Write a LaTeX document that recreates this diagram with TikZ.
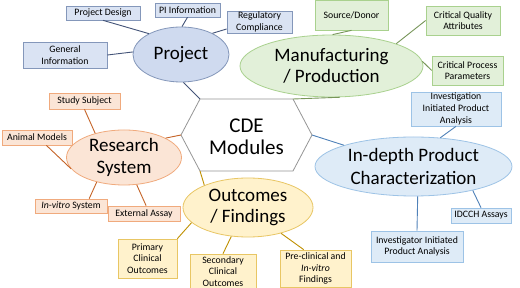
\documentclass[tikz,border=0pt]{standalone}
\usepackage{fontspec}
\setmainfont{Carlito}
\usetikzlibrary{shapes.geometric}
\usepackage{xcolor}
\definecolor{projFill}{RGB}{207,218,239}
\definecolor{projBox}{RGB}{218,227,243}
\definecolor{projEdge}{RGB}{132,151,186}
\definecolor{projLine}{RGB}{68,84,120}
\definecolor{mfgFill}{RGB}{226,240,217}
\definecolor{mfgEdge}{RGB}{169,209,142}
\definecolor{mfgLine}{RGB}{120,150,90}
\definecolor{charFill}{RGB}{222,235,247}
\definecolor{charEdge}{RGB}{157,195,230}
\definecolor{charLine}{RGB}{80,130,185}
\definecolor{resFill}{RGB}{251,229,214}
\definecolor{resEdge}{RGB}{240,170,125}
\definecolor{resLine}{RGB}{197,100,40}
\definecolor{outFill}{RGB}{255,242,204}
\definecolor{outEdge}{RGB}{232,198,100}
\definecolor{outLine}{RGB}{191,144,0}
\definecolor{hexEdge}{RGB}{150,150,150}

\begin{document}
\begin{tikzpicture}[
    x=1pt, y=-1pt,
    module/.style={ellipse, draw, line width=0.8pt, inner sep=0pt, align=center, font=\fontsize{19}{21.5}\selectfont},
    leaf/.style={rectangle, draw, line width=0.7pt, inner sep=0.5pt, align=center, font=\fontsize{9.8}{11.7}\selectfont},
    link/.style={line width=0.9pt}
]
\fill[white] (0,0) rectangle (520,288);
\useasboundingbox (0,0) rectangle (520,288);

% centre hexagon
\coordinate (htl) at (200,99);
\coordinate (htr) at (293,99);
\coordinate (hr) at (312,135);
\coordinate (hbr) at (293,171);
\coordinate (hbl) at (200,171);
\coordinate (hl) at (181,135);
\draw[hexEdge, line width=0.8pt] (htl) -- (htr) -- (hr) -- (hbr) -- (hbl) -- (hl) -- cycle;
\node[font=\fontsize{21}{22}\selectfont, align=center] (cde) at (246.5,137) {CDE\\Modules};

% modules
\node[module, fill=projFill, draw=projEdge, minimum width=96pt, minimum height=55pt] (proj) at (181,54.5) {Project};
\node[module, fill=mfgFill, draw=mfgEdge, minimum width=183pt, minimum height=62pt] (mfg) at (331.5,66) {Manufacturing\\/ Production};
\node[module, fill=charFill, draw=charEdge, minimum width=197pt, minimum height=59pt, font=\fontsize{19}{23}\selectfont] (ind) at (413.5,166.5) {In-depth Product\\Characterization};
\node[module, fill=resFill, draw=resEdge, minimum width=115pt, minimum height=55pt] (rs) at (124,157.5) {Research\\System};
\node[module, fill=outFill, draw=outEdge, minimum width=130pt, minimum height=59pt] (out) at (248,207.5) {Outcomes\\/ Findings};

% project
\node[leaf, fill=projBox, draw=projEdge, minimum width=74pt, minimum height=14pt] (pd) at (103,13) {Project Design};
\node[leaf, fill=projBox, draw=projEdge, minimum width=65pt, minimum height=14pt] (pi) at (187.5,10) {PI Information};
\node[leaf, fill=projBox, draw=projEdge, minimum width=65pt, minimum height=22pt] (reg) at (259.5,22) {Regulatory\\Compliance};
\node[leaf, fill=projBox, draw=projEdge, minimum width=84pt, minimum height=26pt] (gen) at (65,55) {General\\Information};

% manufacturing
\node[leaf, fill=mfgFill, draw=mfgEdge, minimum width=73pt, minimum height=30pt] (src) at (351.5,15) {Source/Donor};
\node[leaf, fill=mfgFill, draw=mfgEdge, minimum width=74pt, minimum height=29pt] (cqa) at (463,20.5) {Critical Quality\\Attributes};
\node[leaf, fill=mfgFill, draw=mfgEdge, minimum width=71pt, minimum height=29pt] (cpp) at (467.5,70.5) {Critical Process\\Parameters};

% characterization
\node[leaf, fill=charFill, draw=charEdge, minimum width=90pt, minimum height=34pt] (iip) at (456,109) {Investigation\\Initiated Product\\Analysis};
\node[leaf, fill=charFill, draw=charEdge, minimum width=60pt, minimum height=15pt] (idc) at (481,215.5) {IDCCH Assays};
\node[leaf, fill=charFill, draw=charEdge, minimum width=92pt, minimum height=31pt] (inv) at (417,246.5) {Investigator Initiated\\Product Analysis};

% research system
\node[leaf, fill=resFill, draw=resEdge, minimum width=71pt, minimum height=16pt] (ss) at (84.5,101) {Study Subject};
\node[leaf, fill=resFill, draw=resEdge, minimum width=70pt, minimum height=15pt] (am) at (37,137.5) {Animal Models};
\node[leaf, fill=resFill, draw=resEdge, minimum width=72pt, minimum height=14pt] (ivs) at (71,206) {\textit{In-vitro} System};
\node[leaf, fill=resFill, draw=resEdge, minimum width=72pt, minimum height=15pt] (ext) at (144,213.5) {External Assay};

% outcomes
\node[leaf, fill=outFill, draw=outEdge, minimum width=59pt, minimum height=39pt] (pri) at (147.5,258.5) {Primary\\Clinical\\Outcomes};
\node[leaf, fill=outFill, draw=outEdge, minimum width=66pt, minimum height=35pt] (sec) at (223,271.5) {Secondary\\Clinical\\Outcomes};
\node[leaf, fill=outFill, draw=outEdge, minimum width=71pt, minimum height=37pt] (pre) at (315.5,268.5) {Pre-clinical and\\\textit{In-vitro}\\Findings};

% connectors
\draw[link, projLine] (pd.south) -- (proj.147);
\draw[link, projLine] (pi.south) -- (proj.88);
\draw[link, projLine] (reg.-168) -- (proj.34);
\draw[link, projLine] (gen.east) -- (proj.177);
\draw[link, projLine] (proj.-85) -- (htl);

\draw[link, mfgLine] (src.south) -- (mfg.88);
\draw[link, mfgLine] (cqa.west) -- (mfg.19);
\draw[link, mfgLine] (cpp.west) -- (mfg.3);
\draw[link, mfgLine] (htr) -- (mfg.-75);

\draw[link, charLine] (iip.south) -- (ind.47);
\draw[link, charLine] (hr) -- (ind.163);
\draw[link, charLine] (inv.north) -- (ind.-82);
\draw[link, charLine] (idc.north) -- (ind.-22);

\draw[link, resLine] (ss.south) -- (rs.140);
\draw[link, resLine] (am.-40) -- (rs.-168);
\draw[link, resLine] (ivs.22) -- (rs.-138);
\draw[link, resLine] (ext.75) -- (rs.-65);
\draw[link, resLine] (rs.25) -- (hl);

\draw[link, outLine] (hbl) -- (out.153);
\draw[link, outLine] (pri.north east) -- (out.-165);
\draw[link, outLine] (sec.north) -- (out.-120);
\draw[link, outLine] (pre.122) -- (out.-38);
\end{tikzpicture}
\end{document}
